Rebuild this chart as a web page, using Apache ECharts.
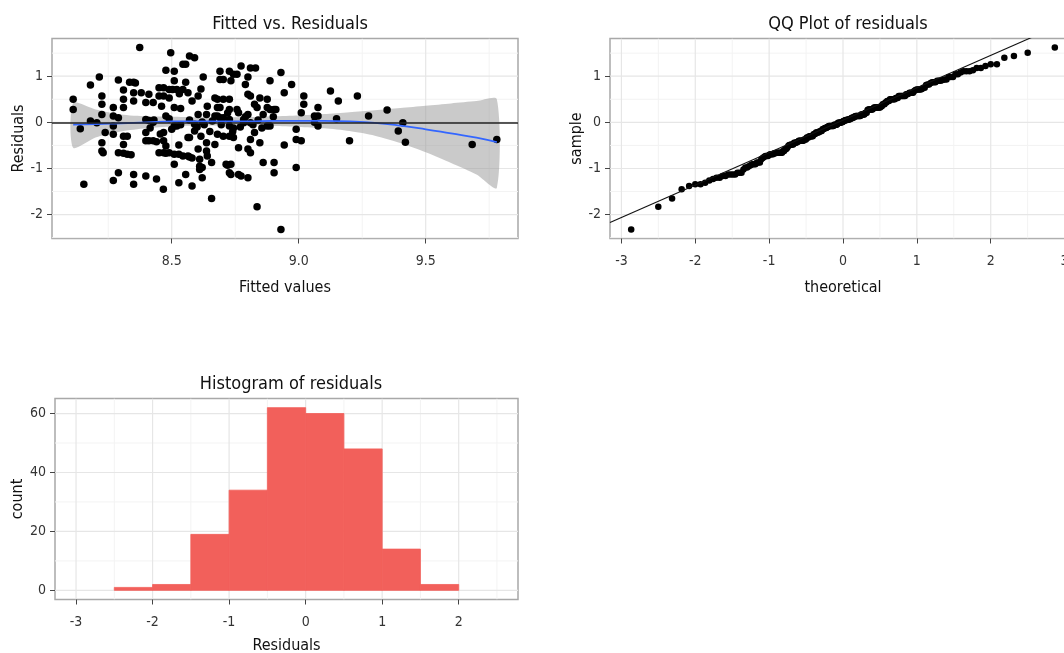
<!DOCTYPE html>
<html><head><meta charset="utf-8">
<script src="https://cdn.jsdelivr.net/npm/echarts@6/dist/echarts.min.js"></script>
<style>html,body{margin:0;padding:0;background:#fff}#c{width:1064px;height:653px}</style>
</head><body><div id="c"></div>
<script>
// ---------- data ----------
const fittedValues = [
8.112,8.112,8.14,8.154,8.18,8.18,8.205,8.215,8.225,8.225,8.225,8.225,8.225,8.23,8.238,8.27,8.27,8.27,8.27,8.27,
8.29,8.29,8.29,8.29,8.31,8.31,8.31,8.31,8.31,8.31,8.325,8.325,8.334,8.34,8.35,8.35,8.35,8.35,8.35,8.357,
8.374,8.38,8.398,8.398,8.398,8.398,8.398,8.41,8.41,8.41,8.427,8.427,8.427,8.44,8.45,8.45,8.45,8.467,8.468,8.468,
8.468,8.468,8.468,8.477,8.477,8.477,8.477,8.49,8.49,8.49,8.496,8.504,8.51,8.51,8.51,8.51,8.51,8.51,8.52,8.52,
8.528,8.528,8.528,8.544,8.544,8.544,8.555,8.555,8.555,8.564,8.564,8.564,8.57,8.57,8.57,8.58,8.58,8.58,8.59,8.59,
8.59,8.624,8.604,8.604,8.604,8.61,8.61,8.61,8.62,8.62,8.62,8.637,8.637,8.637,8.64,8.657,8.657,8.67,8.67,8.67,
8.68,8.68,8.68,8.68,8.69,8.69,8.69,8.69,8.703,8.703,8.703,8.703,8.714,8.72,8.727,8.727,8.727,8.727,8.727,8.727,
8.727,8.733,8.733,8.733,8.743,8.743,8.743,8.757,8.757,8.763,8.763,8.763,8.773,8.773,8.783,8.783,8.79,8.80,8.80,8.80,
8.80,8.80,8.81,8.81,8.81,8.81,8.81,8.826,8.826,8.83,8.836,8.836,8.847,8.847,8.86,8.86,8.876,8.876,8.876,8.887,
8.887,8.887,8.903,8.903,8.903,8.91,8.93,8.93,8.943,8.943,8.972,8.99,8.99,8.99,9.01,9.01,9.02,9.02,9.062,9.062,
9.076,9.076,9.076,9.125,9.149,9.156,9.2,9.231,9.275,9.348,9.392,9.41,9.42,9.683,9.78,
8.415,8.44,8.455,8.5,8.535,8.6,8.615,8.628,8.65,8.695,8.74,8.77,8.82,8.855,
8.43,8.46,8.49,8.535,8.57,8.64,8.66,8.72,8.79,8.84,8.9,8.53,8.615];
const residuals = [
0.50,0.28,-0.14,-1.34,0.81,0.03,-0.01,0.98,0.57,0.39,0.17,-0.44,-0.62,-0.66,-0.22,0.32,0.14,-0.08,-0.26,-1.26,
0.92,0.10,-0.66,-1.09,0.70,0.50,0.32,-0.30,-0.48,-0.67,-0.30,-0.69,0.87,-0.70,0.87,0.64,0.46,-1.13,-1.34,0.85,
1.62,0.64,0.43,0.06,-0.22,-0.40,-1.16,0.61,0.04,-0.40,0.43,0.00,-0.40,-1.23,0.75,0.57,-0.66,-1.45,0.75,0.57,
-0.22,-0.40,-0.66,1.13,0.14,-0.51,-0.67,0.71,0.53,-0.66,1.51,0.71,1.11,0.90,0.32,-0.08,-0.69,-0.91,0.71,-0.08,
-0.49,-0.69,-1.31,1.26,0.71,-0.73,1.26,0.87,-1.13,0.64,-0.33,-0.73,1.44,-0.33,-0.75,0.46,-0.77,-1.38,1.40,-0.19,
-0.04,0.98,0.57,0.17,-0.58,-0.80,-0.95,-1.02,0.01,-0.98,-1.20,0.17,-0.44,-0.62,-0.73,-0.87,-1.65,0.53,0.14,-0.48,
0.50,0.32,0.14,-0.26,1.11,0.93,0.32,0.10,0.93,0.50,0.10,-0.30,-0.91,-0.93,1.11,0.50,0.28,0.06,-0.08,-0.30,
-1.09,0.90,-0.91,-1.13,1.04,-0.12,-0.33,1.04,0.28,0.21,-0.55,-1.13,1.22,-1.16,0.06,-0.01,0.82,0.98,0.61,0.17,
-0.58,-1.20,1.18,0.57,-0.01,-0.37,-0.66,0.39,-0.22,1.18,-1.83,0.32,0.53,-0.44,0.17,-0.87,0.50,0.32,-0.08,0.90,
0.28,-0.08,-0.87,-1.09,0.28,0.28,-2.32,1.08,0.64,-0.49,0.82,-0.15,-0.37,-0.98,0.21,-0.40,0.57,0.39,0.14,0.00,
0.32,0.14,-0.08,0.68,0.08,0.46,-0.40,0.57,0.14,0.27,-0.19,-0.01,-0.43,-0.48,-0.37,
-0.12,-0.42,-0.25,-0.15,-0.05,-0.10,-0.30,-0.05,-0.20,-0.05,-0.20,-0.10,-0.05,-0.12,
0.05,0.35,0.08,0.30,0.05,0.35,0.03,0.20,0.12,0.05,0.12,0.62,0.72];

// loess smooth and its confidence band
const smoothX     = [8.112,8.2,8.3,8.4,8.5,8.6,8.7,8.8,8.9,9.0,9.1,9.2,9.3,9.4,9.5,9.6,9.7,9.78];
const smoothY     = [-0.05,-0.04,-0.02,0.0,0.02,0.02,0.02,0.02,0.03,0.03,0.03,0.02,-0.01,-0.07,-0.15,-0.24,-0.33,-0.43];
const smoothUpper = [0.42,0.28,0.17,0.13,0.12,0.11,0.11,0.11,0.13,0.15,0.18,0.22,0.26,0.31,0.36,0.41,0.46,0.50];
const smoothLower = [-0.55,-0.33,-0.20,-0.13,-0.09,-0.07,-0.07,-0.07,-0.08,-0.10,-0.13,-0.19,-0.29,-0.45,-0.65,-0.88,-1.13,-1.42];
const hlineY = 0;

// QQ reference line
const qqLineIntercept = 0.045;
const qqLineSlope = 0.703;

// histogram
const histEdges  = [-3,-2.5,-2,-1.5,-1,-0.5,0,0.5,1,1.5,2,2.5];
const histCounts = [0,1,2,19,34,62,60,48,14,2,0];

// ticks
const fitTicks = [8.5, 9.0, 9.5];           const fitMinor = [8.25, 8.75, 9.25, 9.75];
const resTicks = [-2, -1, 0, 1];            const resMinor = [-2.5, -1.5, -0.5, 0.5, 1.5];
const qqTicks  = [-3, -2, -1, 0, 1, 2, 3];  const qqMinor  = [-2.5, -1.5, -0.5, 0.5, 1.5, 2.5];
const histXTicks = [-3, -2, -1, 0, 1, 2];   const histXMinor = [-2.5, -1.5, -0.5, 0.5, 1.5, 2.5];
const countTicks = [0, 20, 40, 60];         const countMinor = [10, 30, 50];

// ---------- derived ----------
function qnorm(p){
 const a=[-3.969683028665376e+01,2.209460984245205e+02,-2.759285104469687e+02,1.383577518672690e+02,-3.066479806614716e+01,2.506628277459239e+00];
 const b=[-5.447609879822406e+01,1.615858368580409e+02,-1.556989798598866e+02,6.680131188771972e+01,-1.328068155288572e+01];
 const c=[-7.784894002430293e-03,-3.223964580411365e-01,-2.400758277161838e+00,-2.549732539343734e+00,4.374664141464968e+00,2.938163982698783e+00];
 const d=[7.784695709041462e-03,3.224671290700398e-01,2.445134137142996e+00,3.754408661907416e+00];
 const pl=0.02425;
 if(p<pl){const q=Math.sqrt(-2*Math.log(p));return (((((c[0]*q+c[1])*q+c[2])*q+c[3])*q+c[4])*q+c[5])/((((d[0]*q+d[1])*q+d[2])*q+d[3])*q+1);}
 if(p>1-pl){const q=Math.sqrt(-2*Math.log(1-p));return -(((((c[0]*q+c[1])*q+c[2])*q+c[3])*q+c[4])*q+c[5])/((((d[0]*q+d[1])*q+d[2])*q+d[3])*q+1);}
 const q=p-0.5,r=q*q;return (((((a[0]*r+a[1])*r+a[2])*r+a[3])*r+a[4])*r+a[5])*q/(((((b[0]*r+b[1])*r+b[2])*r+b[3])*r+b[4])*r+1);
}
const nRes = residuals.length;
const sortedRes = residuals.slice().sort((x,y)=>x-y);
const qqData = sortedRes.map((s,i)=>[qnorm((i+0.5)/nRes), s]);
const scatterData = fittedValues.map((f,i)=>[f, residuals[i]]);
const smoothData = smoothX.map((x,i)=>[x, smoothY[i]]);

function pad(lo, hi, f){ const r = hi-lo; return [lo - r*f, hi + r*f]; }
const xR1 = pad(Math.min(...fittedValues), Math.max(...fittedValues), 0.05);
const yR1 = pad(Math.min(...residuals), Math.max(...residuals), 0.05);
const qqMaxT = Math.max(...qqData.map(d=>Math.abs(d[0])));
const xR2 = pad(-qqMaxT, qqMaxT, 0.05);
const xR3 = pad(histEdges[0], histEdges[histEdges.length-1], 0.05);
const yR3 = pad(0, Math.max(...histCounts), 0.05);

// ---------- styling ----------
const FONT = "'Liberation Sans Narrow','DejaVu Sans Condensed','Roboto',sans-serif";
const MAJOR = '#e6e6e6', MINOR = '#f3f3f3';
const BAR = '#F2605B';

function xAxisCfg(gi, rng, ticks, name, fmt, gap){
  return {type:'value', gridIndex:gi, min:rng[0], max:rng[1], name, nameLocation:'middle', nameGap:gap,
    nameTextStyle:{fontFamily:FONT, fontSize:16, color:'#111'},
    axisLine:{show:false, onZero:false}, splitLine:{show:false},
    axisTick:{show:true, customValues:ticks, length:5, lineStyle:{color:'#444', width:1}},
    axisLabel:{customValues:ticks, formatter:fmt, fontFamily:FONT, fontSize:14, color:'#333', margin:16}};
}
function yAxisCfg(gi, rng, ticks, name, gap){
  return {type:'value', gridIndex:gi, min:rng[0], max:rng[1], name, nameLocation:'middle', nameGap:gap,
    nameTextStyle:{fontFamily:FONT, fontSize:16, color:'#111'},
    axisLine:{show:false, onZero:false}, splitLine:{show:false},
    axisTick:{show:true, customValues:ticks, length:5, lineStyle:{color:'#444', width:1}},
    axisLabel:{customValues:ticks, fontFamily:FONT, fontSize:14, color:'#333', margin:9}};
}
function gridLines(idx, xMaj, xMin, yMaj, yMin){
  return {type:'custom', xAxisIndex:idx, yAxisIndex:idx, z:0, silent:true, animation:false,
    data:[[0,0]], clip:true,
    renderItem:(params, api)=>{
      const cs = params.coordSys; const ch = [];
      const vx = (vals, col, w)=>vals.forEach(v=>{ const px = api.coord([v, 0])[0];
        ch.push({type:'line', shape:{x1:px,y1:cs.y,x2:px,y2:cs.y+cs.height}, style:{stroke:col, lineWidth:w}}); });
      const hy = (vals, col, w)=>vals.forEach(v=>{ const py = api.coord([0, v])[1];
        ch.push({type:'line', shape:{x1:cs.x,y1:py,x2:cs.x+cs.width,y2:py}, style:{stroke:col, lineWidth:w}}); });
      vx(xMin, MINOR, 1); hy(yMin, MINOR, 1); vx(xMaj, MAJOR, 1.2); hy(yMaj, MAJOR, 1.2);
      return {type:'group', children:ch};
    }};
}
const gridBase = {show:true, borderColor:'#a8a8a8', borderWidth:1.5, backgroundColor:'#ffffff',
                  containLabel:false, outerBoundsMode:'none'};
const fmt1 = v => v.toFixed(1);
const fmt0 = v => String(v);
const titleStyle = {fontFamily:FONT, fontSize:18, fontWeight:'normal', color:'#111'};

const chart = echarts.init(document.getElementById('c'), null, {renderer:'canvas'});
chart.setOption({
  animation:false,
  backgroundColor:'#ffffff',
  title:[
    {text:'Fitted vs. Residuals', left:285, top:10, textAlign:'center', textStyle:titleStyle},
    {text:'QQ Plot of residuals', left:843, top:10, textAlign:'center', textStyle:titleStyle},
    {text:'Histogram of residuals', left:286, top:370, textAlign:'center', textStyle:titleStyle}
  ],
  grid:[
    Object.assign({left:52, top:38.5, width:466, height:200}, gridBase),
    Object.assign({left:610, top:38.5, width:466, height:200}, gridBase),
    Object.assign({left:55, top:398.5, width:463, height:201}, gridBase)
  ],
  xAxis:[
    xAxisCfg(0, xR1, fitTicks, 'Fitted values', fmt1, 41),
    xAxisCfg(1, xR2, qqTicks, 'theoretical', fmt0, 41),
    xAxisCfg(2, xR3, histXTicks, 'Residuals', fmt0, 38)
  ],
  yAxis:[
    yAxisCfg(0, yR1, resTicks, 'Residuals', 25),
    yAxisCfg(1, yR1, resTicks, 'sample', 23),
    yAxisCfg(2, yR3, countTicks, 'count', 28)
  ],
  series:[
    gridLines(0, fitTicks, fitMinor, resTicks, resMinor),
    gridLines(1, qqTicks, qqMinor, resTicks, resMinor),
    gridLines(2, histXTicks, histXMinor, countTicks, countMinor),
    // confidence band
    {type:'custom', xAxisIndex:0, yAxisIndex:0, z:1, silent:true, data:[[smoothX[0], smoothY[0]]],
     renderItem:(params, api)=>{
       const pts = [];
       smoothX.forEach((x,i)=>pts.push(api.coord([x, smoothUpper[i]])));
       for(let i=smoothX.length-1;i>=0;i--) pts.push(api.coord([smoothX[i], smoothLower[i]]));
       return {type:'polygon', shape:{points:pts, smooth:0.25}, style:{fill:'rgba(150,150,150,0.5)'}};
     },
     markLine:{silent:true, symbol:'none', label:{show:false}, animation:false,
       lineStyle:{color:'#222222', width:1.6, type:'solid'}, data:[{yAxis:hlineY}]}
    },
    {type:'scatter', xAxisIndex:0, yAxisIndex:0, z:3, data:scatterData, symbolSize:7.5,
     itemStyle:{color:'#000000', opacity:1}, silent:true},
    {type:'line', xAxisIndex:0, yAxisIndex:0, z:4, data:smoothData, smooth:true, showSymbol:false,
     lineStyle:{color:'#3366FF', width:1.8}, silent:true},
    // QQ
    {type:'line', xAxisIndex:1, yAxisIndex:1, z:4, showSymbol:false, clip:true, silent:true,
     data:[[xR2[0], qqLineIntercept + qqLineSlope*xR2[0]], [xR2[1], qqLineIntercept + qqLineSlope*xR2[1]]],
     lineStyle:{color:'#111111', width:1.1}},
    {type:'scatter', xAxisIndex:1, yAxisIndex:1, z:3, data:qqData, symbolSize:6.5,
     itemStyle:{color:'#000000', opacity:1}, silent:true},
    // histogram
    {type:'custom', xAxisIndex:2, yAxisIndex:2, z:2, silent:true,
     data: histCounts.map((c,i)=>[histEdges[i], histEdges[i+1], c]),
     encode:{x:[0,1], y:2},
     renderItem:(params, api)=>{
       const cnt = api.value(2);
       const p0 = api.coord([api.value(0), 0]);
       const p1 = api.coord([api.value(1), cnt]);
       return {type:'rect', shape:{x:p0[0], y:p1[1], width:p1[0]-p0[0], height:p0[1]-p1[1]},
               style: cnt > 0 ? {fill:BAR, stroke:BAR, lineWidth:0.8} : {fill:'none', stroke:'none'}};
     }}
  ]
});
</script></body></html>
